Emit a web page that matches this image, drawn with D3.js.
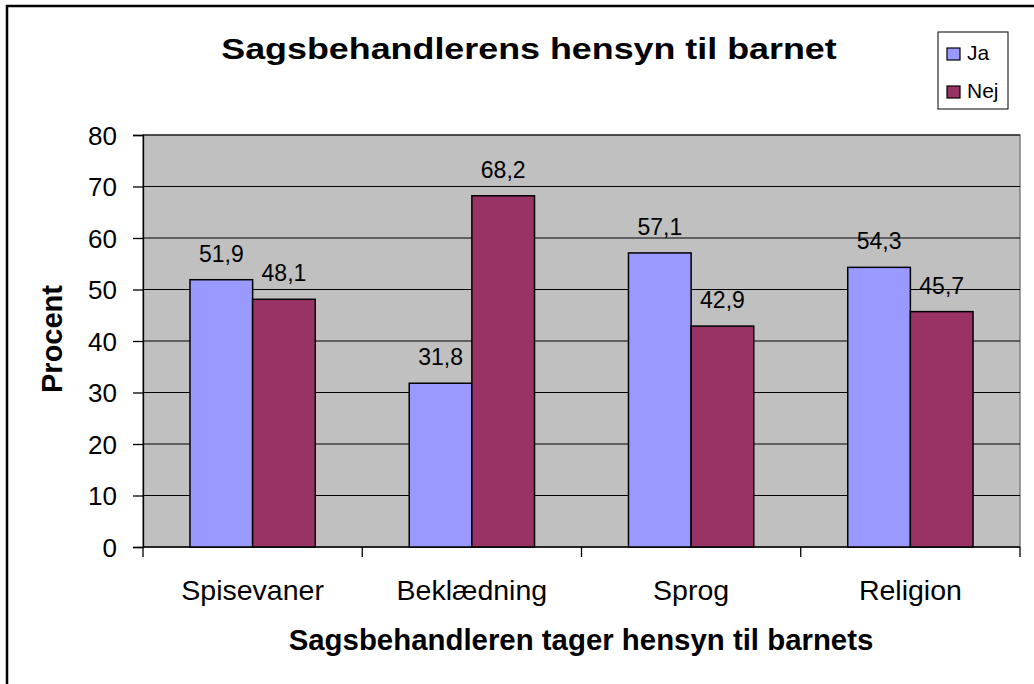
<!DOCTYPE html>
<html>
<head>
<meta charset="utf-8">
<script src="https://cdn.jsdelivr.net/npm/d3@7"></script>
<style>
  body { margin: 0; background: #fff; }
  svg text { font-family: "Liberation Sans", Arial, sans-serif; fill: #000; }
</style>
</head>
<body>
<svg id="chart" width="1034" height="684"></svg>
<script>
// data
let categories = ["Spisevaner", "Beklædning", "Sprog", "Religion"]
let seriesNames = ["Ja", "Nej"]
let jaValues = [51.9, 31.8, 57.1, 54.3]
let nejValues = [48.1, 68.2, 42.9, 45.7]
let yTicks = [0, 10, 20, 30, 40, 50, 60, 70, 80]
let colors = ["#9999FF", "#993366"]

// plot area
let plotLeft = 143, plotTop = 135, plotRight = 1020, plotBottom = 547

let svg = d3.select("#chart")

// outer frame
svg.append("rect")
    .attr("x", 7).attr("y", 6)
    .attr("width", 1040).attr("height", 700)
    .attr("fill", "#fff").attr("stroke", "#000").attr("stroke-width", 2.5)

let xscale = d3.scaleBand().domain(categories).range([plotLeft, plotRight])
let inner = d3.scaleBand().domain(seriesNames)
    .range([0, xscale.bandwidth()]).paddingInner(0).paddingOuter(0.75)
let yscale = d3.scaleLinear().domain([0, 80]).range([plotBottom, plotTop])

// gray plot background
svg.append("rect")
    .attr("x", plotLeft).attr("y", plotTop)
    .attr("width", plotRight - plotLeft).attr("height", plotBottom - plotTop)
    .attr("fill", "#C0C0C0").attr("stroke", "#808080").attr("stroke-width", 1.5)

// gridlines
svg.append("g").selectAll("line")
    .data(yTicks.filter(d => d > 0))
    .enter().append("line")
    .attr("x1", plotLeft).attr("x2", plotRight)
    .attr("y1", d => yscale(d)).attr("y2", d => yscale(d))
    .attr("stroke", "#000").attr("stroke-width", 1)

// y axis
let yAxis = d3.axisLeft(yscale).tickValues(yTicks).tickSize(10).tickPadding(16)
let yg = svg.append("g").attr("transform", "translate(" + plotLeft + ",0)").call(yAxis)
yg.select(".domain").attr("stroke", "#000").attr("stroke-width", 1.3)
yg.selectAll("line").attr("stroke", "#000").attr("stroke-width", 1.3)
yg.selectAll("text").style("font-size", "26px").attr("dy", "0.36em")

// x axis baseline and category ticks
svg.append("line")
    .attr("x1", plotLeft).attr("x2", plotRight)
    .attr("y1", plotBottom).attr("y2", plotBottom)
    .attr("stroke", "#000").attr("stroke-width", 1.3)
let bounds = categories.map(c => xscale(c)).concat([plotRight])
svg.append("g").selectAll("line")
    .data(bounds).enter().append("line")
    .attr("x1", d => d).attr("x2", d => d)
    .attr("y1", plotBottom).attr("y2", plotBottom + 10)
    .attr("stroke", "#000").attr("stroke-width", 1.3)

svg.append("g").selectAll("text")
    .data(categories).enter().append("text")
    .attr("x", d => xscale(d) + xscale.bandwidth() / 2)
    .attr("y", 600)
    .attr("text-anchor", "middle")
    .style("font-size", "28.5px")
    .text(d => d)

// bars
let allSeries = [jaValues, nejValues]
allSeries.forEach(function(vals, s){
    let g = svg.append("g")
    g.selectAll("rect")
        .data(vals).enter().append("rect")
        .attr("x", (d, i) => xscale(categories[i]) + inner(seriesNames[s]))
        .attr("y", d => yscale(d))
        .attr("width", inner.bandwidth())
        .attr("height", d => plotBottom - yscale(d))
        .attr("fill", colors[s])
        .attr("stroke", "#000").attr("stroke-width", 1.5)
    g.selectAll("text")
        .data(vals).enter().append("text")
        .attr("x", (d, i) => xscale(categories[i]) + inner(seriesNames[s]) + inner.bandwidth() / 2)
        .attr("y", d => yscale(d) - 18)
        .attr("text-anchor", "middle")
        .style("font-size", "23px")
        .text(d => d.toFixed(1).replace(".", ","))
})

// title (a bit wider than the font, like the original)
svg.append("text")
    .attr("transform", "translate(529,58.5) scale(1.195,1)")
    .attr("text-anchor", "middle")
    .style("font-size", "30px").style("font-weight", "bold")
    .text("Sagsbehandlerens hensyn til barnet")

// axis titles
svg.append("text")
    .attr("transform", "translate(62,339) rotate(-90)")
    .attr("text-anchor", "middle")
    .style("font-size", "29px").style("font-weight", "bold")
    .text("Procent")
svg.append("text")
    .attr("x", 581).attr("y", 650)
    .attr("text-anchor", "middle")
    .style("font-size", "29.4px").style("font-weight", "bold")
    .text("Sagsbehandleren tager hensyn til barnets")

// legend
svg.append("rect")
    .attr("x", 938).attr("y", 32).attr("width", 70).attr("height", 77)
    .attr("fill", "#fff").attr("stroke", "#000").attr("stroke-width", 1)
seriesNames.forEach(function(name, i){
    let cy = 54 + i * 38
    svg.append("rect")
        .attr("x", 947).attr("y", cy - 6).attr("width", 13).attr("height", 12)
        .attr("fill", colors[i]).attr("stroke", "#000").attr("stroke-width", 1.2)
    svg.append("text")
        .attr("x", 967).attr("y", cy + 6)
        .style("font-size", "21px")
        .text(name)
})
</script>
</body>
</html>
